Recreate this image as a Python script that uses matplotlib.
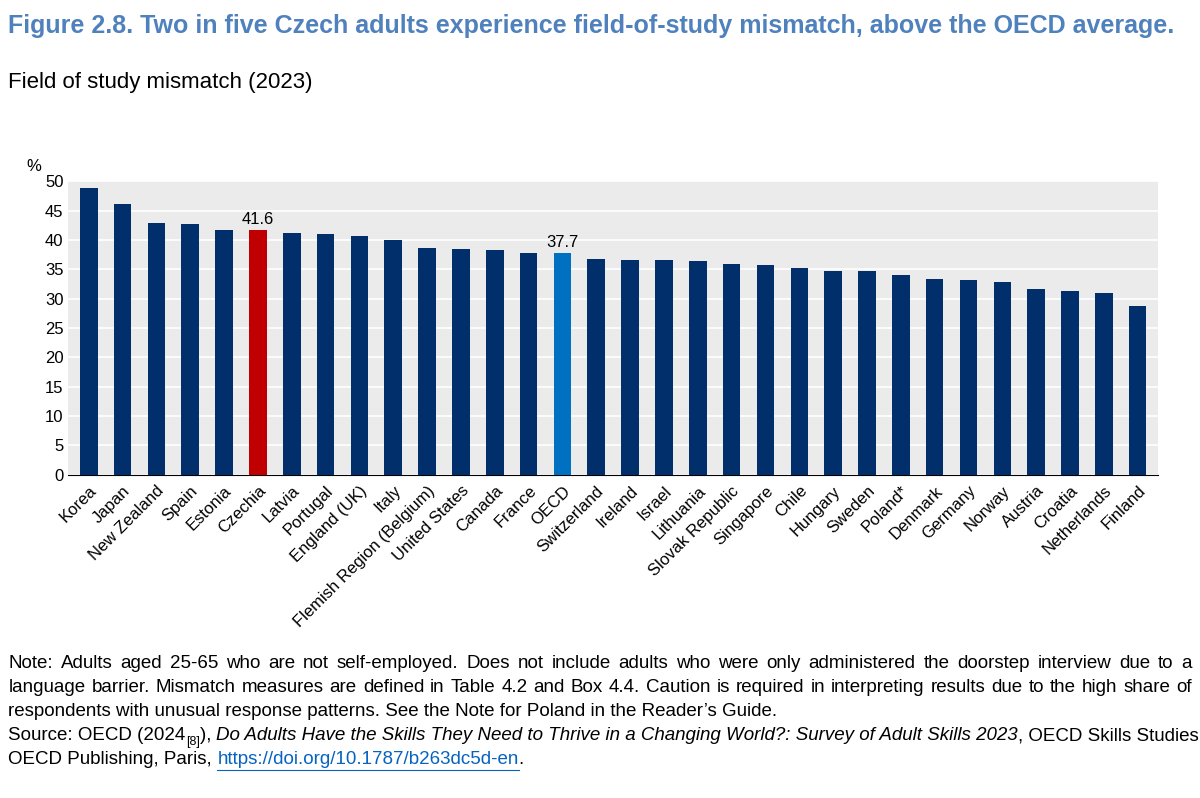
import matplotlib
matplotlib.use('Agg')
import matplotlib.pyplot as plt
import numpy as np

plt.rcParams['font.family'] = ['Liberation Sans', 'DejaVu Sans']

countries = ['Korea', 'Japan', 'New Zealand', 'Spain', 'Estonia', 'Czechia', 'Latvia',
             'Portugal', 'England (UK)', 'Italy', 'Flemish Region (Belgium)', 'United States',
             'Canada', 'France', 'OECD', 'Switzerland', 'Ireland', 'Israel', 'Lithuania',
             'Slovak Republic', 'Singapore', 'Chile', 'Hungary', 'Sweden', 'Poland*',
             'Denmark', 'Germany', 'Norway', 'Austria', 'Croatia', 'Netherlands', 'Finland']
values = [48.8, 46.1, 42.9, 42.7, 41.6, 41.6, 41.2, 41.0, 40.7, 40.0, 38.7, 38.5,
          38.2, 37.8, 37.7, 36.7, 36.6, 36.6, 36.4, 35.9, 35.8, 35.2, 34.7, 34.7, 34.1,
          33.3, 33.2, 32.9, 31.6, 31.3, 30.9, 28.7]
labelled = ['Czechia', 'OECD']

colors = []
for c in countries:
    if c == 'Czechia':
        colors.append('#C00000')
    elif c == 'OECD':
        colors.append('#0070C0')
    else:
        colors.append('#002F6C')

fig = plt.figure(figsize=(12, 7.98), dpi=100)
ax = fig.add_axes([0.057, 0.405, 0.908, 0.368])
ax.set_facecolor('#EBEBEB')
x = np.arange(len(countries))
ax.bar(x, values, width=0.52, color=colors, zorder=3)
for i, c in enumerate(countries):
    if c in labelled:
        ax.text(i, values[i] + 0.6, '%.1f' % values[i], ha='center', va='bottom', fontsize=12)

ax.set_ylim(0, 50)
ax.set_xlim(-0.6, len(countries) - 0.4)
ax.set_yticks(range(0, 51, 5))
ax.yaxis.grid(True, color='white', linewidth=1.2, zorder=0)
ax.set_xticks(x)
ax.set_xticklabels(countries, rotation=45, ha='right', rotation_mode='anchor', fontsize=12)
ax.tick_params(axis='both', length=0, labelsize=12)
ax.tick_params(axis='x', pad=6)
for s in ['top', 'right', 'left']:
    ax.spines[s].set_visible(False)
ax.spines['bottom'].set_color('black')
ax.text(-0.025, 1.035, '%', transform=ax.transAxes, fontsize=12, ha='right')

fig.text(0.007, 0.967, 'Figure 2.8. Two in five Czech adults experience field-of-study mismatch, above the OECD average.',
         fontsize=18, fontweight='bold', color='#4F81BD', va='center')
fig.text(0.007, 0.897, 'Field of study mismatch (2023)', fontsize=16, va='center')

fig.canvas.draw()
rend = fig.canvas.get_renderer()
FS = 13.5
LEFT, RIGHT = 0.007, 0.993


def justified(line, y):
    words = line.split(' ')
    ws = []
    for w in words:
        t = fig.text(0, 0, w, fontsize=FS)
        ws.append(t.get_window_extent(rend).width / fig.bbox.width)
        t.remove()
    gap = (RIGHT - LEFT - sum(ws)) / (len(words) - 1)
    xpos = LEFT
    for w, wd in zip(words, ws):
        fig.text(xpos, y, w, fontsize=FS, va='center')
        xpos += wd + gap


notes = [
    'Note: Adults aged 25-65 who are not self-employed. Does not include adults who were only administered the doorstep interview due to a',
    'language barrier. Mismatch measures are defined in Table 4.2 and Box 4.4. Caution is required in interpreting results due to the high share of',
    'respondents with unusual response patterns. See the Note for Poland in the Reader\u2019s Guide.',
]
y0 = 1 - 664 / 798
dy = 24 / 798
justified(notes[0], y0)
justified(notes[1], y0 - dy)
fig.text(LEFT, y0 - 2 * dy, notes[2], fontsize=FS, va='center')


def run(parts, y):
    xpos = LEFT
    for txt, style in parts:
        kw = dict(fontsize=FS, va='center')
        if style == 'i':
            kw['style'] = 'italic'
        if style == 'sub':
            kw['fontsize'] = 9
            kw['va'] = 'top'
        if style == 'link':
            kw['color'] = '#0563C1'
        t = fig.text(xpos, y, txt, **kw)
        bb = t.get_window_extent(rend)
        if style == 'link':
            fig.add_artist(plt.Line2D([xpos, xpos + bb.width / fig.bbox.width],
                                      [y - 0.012, y - 0.012], color='#0563C1', linewidth=0.8))
        xpos += bb.width / fig.bbox.width


run([('Source: OECD (2024', ''), ('[8]', 'sub'), ('), ', ''),
     ('Do Adults Have the Skills They Need to Thrive in a Changing World?: Survey of Adult Skills 2023', 'i'),
     (', OECD Skills Studies,', '')], y0 - 3 * dy)
run([('OECD Publishing, Paris, ', ''), ('https://doi.org/10.1787/b263dc5d-en', 'link'), ('.', '')],
    y0 - 4 * dy)

fig.savefig('out.png', dpi=100)
